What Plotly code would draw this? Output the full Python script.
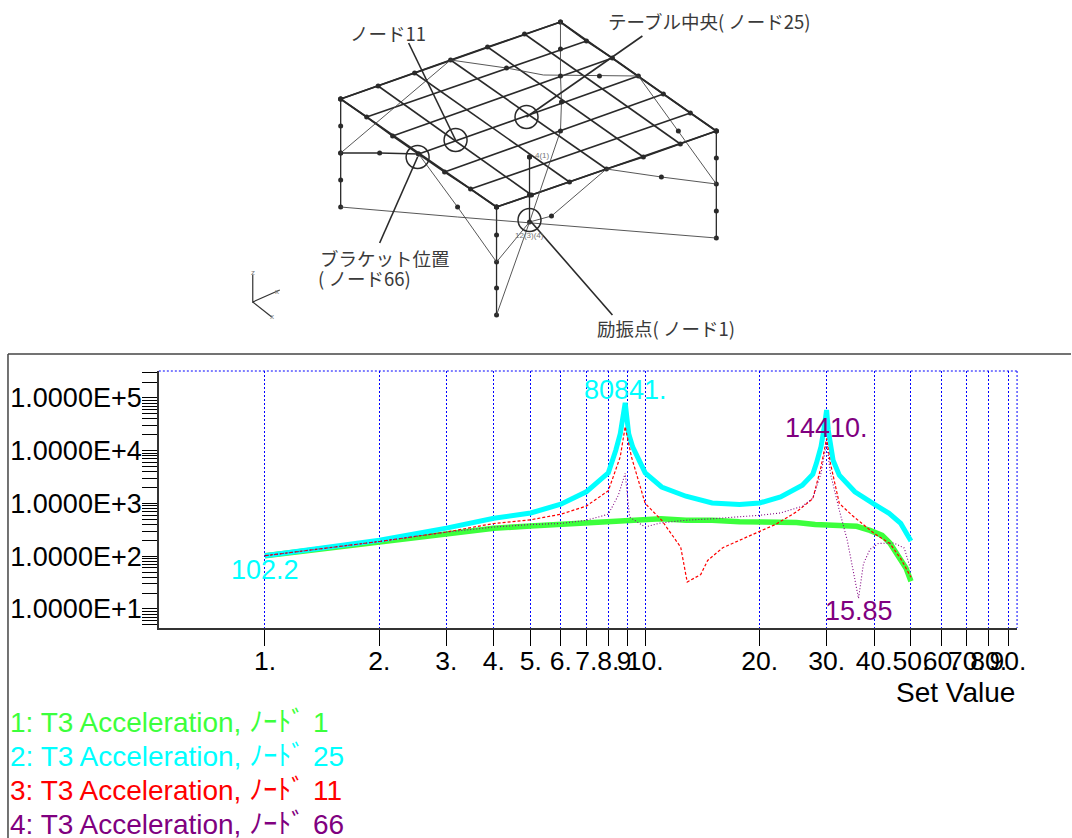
import math
import plotly.graph_objects as go

# ---------- response curves ----------
x_node1 = [1, 2, 3, 4, 5, 6, 7, 8, 9, 10, 11, 12.8, 15, 17.7, 20, 25, 28, 33, 36, 39, 42, 44, 46, 48.5, 50]
y_node1 = [102.2, 187, 270, 339, 373, 398, 426, 457, 480, 507, 513, 480, 480, 452, 445, 433, 398, 385, 369, 309, 248, 178, 107, 60, 33.6]

x_node25 = [1, 2, 3, 4, 5, 6, 7, 8, 8.37, 8.6, 8.86, 9.05, 9.27, 10, 11.05, 12.8, 15, 17.7, 20, 22.7, 25.9, 27.6, 28.2, 29, 29.5, 30, 30.3, 30.7, 31.2, 32.4, 35.6, 40, 43.8, 47, 50]
y_node25 = [102.2, 200, 340, 525, 660, 966, 1660, 3800, 10200, 21000, 80841, 21000, 11800, 3800, 2050, 1370, 1020, 955, 1020, 1330, 2220, 3590, 5750, 11900, 24600, 59000, 24600, 11900, 6600, 3430, 1660, 966, 650, 417, 194]

x_node11 = [1, 2, 3, 4, 5, 6, 7, 8, 8.6, 8.86, 9.2, 10, 11.05, 12.4, 12.9, 14, 14.6, 16, 20, 22, 25, 27.6, 29, 30, 30.7, 32.4, 35, 40, 44, 47, 50]
y_node11 = [102.2, 190, 287, 417, 490, 624, 890, 1740, 7670, 28500, 7670, 1000, 480, 148, 32.3, 45, 83, 145, 295, 398, 692, 1230, 4900, 17100, 5750, 1000, 596, 270, 174, 90, 40]

x_node66 = [1, 2, 3, 4, 5, 6, 7, 8, 8.5, 8.86, 9.1, 10, 11, 12.8, 15, 17.7, 20, 22.7, 25.9, 27.6, 29, 30, 30.7, 32.4, 34, 36.4, 37.5, 39, 41, 45, 48, 50]
y_node66 = [102.2, 190, 285, 357, 398, 417, 480, 624, 1430, 3720, 550, 357, 427, 480, 513, 550, 596, 660, 885, 1260, 3720, 14410, 3720, 745, 200, 15.85, 72, 134, 174, 178, 143, 54]

series_names = ["1: T3 Acceleration, ﾉｰﾄﾞ 1", "2: T3 Acceleration, ﾉｰﾄﾞ 25",
                "3: T3 Acceleration, ﾉｰﾄﾞ 11", "4: T3 Acceleration, ﾉｰﾄﾞ 66"]
series_colors = ["#3CFF3C", "#00FFFF", "#FF0000", "#800080"]

x_tick_vals = [1, 2, 3, 4, 5, 6, 7, 8, 9, 10, 20, 30, 40, 50, 60, 70, 80, 90]
x_tick_text = ["1.", "2.", "3.", "4.", "5.", "6.", "7.", "8.", "9.", "10.", "20.", "30.", "40.", "50.", "60.", "70.", "80.", "90."]
y_tick_vals = [5, 6, 7, 8, 9,
               10, 20, 30, 40, 50, 60, 70, 80, 90,
               100, 200, 300, 400, 500, 600, 700, 800, 900,
               1000, 2000, 3000, 4000, 5000, 6000, 7000, 8000, 9000,
               10000, 20000, 30000, 40000, 50000, 60000, 70000, 80000, 90000,
               100000, 200000, 300000]
y_major = {10: "1.0000E+1", 100: "1.0000E+2", 1000: "1.0000E+3", 10000: "1.0000E+4", 100000: "1.0000E+5"}
y_tick_text = [y_major.get(v, "") for v in y_tick_vals]

peak_labels = [("102.2", 1, 102.2, "#00FFFF", -14), ("80841.", 8.86, 80841, "#00FFFF", 13),
               ("14410.", 30, 14410, "#800080", 14), ("15.85", 36.4, 15.85, "#800080", -13)]

# ---------- schematic of the table (drawing positions in page pixels) ----------
edge_tl = [(561, 22), (525, 34), (488, 47), (451, 60), (415, 73), (378.5, 86), (341, 99)]
edge_rb = [(717, 131), (681, 144), (644, 157), (607, 169), (570, 182), (532, 195), (497, 207)]
edge_tr = [(561, 22), (587, 41), (613, 58), (639, 76), (664, 94), (691, 113), (717, 131)]
edge_lb = [(341, 99), (367, 117), (393, 136), (419, 154), (445, 172), (471, 189), (497, 207)]

heavy_paths = [
    [(341, 99), (341, 126), (341, 153), (341, 180), (341, 207)],
    [(717, 131), (717, 158), (717, 184), (717, 211), (717, 238)],
    [(497, 207), (497, 235), (497, 262), (497, 288), (497, 315)],
    [(341, 153), (380, 153), (419, 154)],
    [(530, 157), (530, 195), (530, 222)],
]
thin_paths = [
    [(561, 22), (561, 49), (561, 76), (562, 102), (561, 131)],
    [(341, 207), (458, 217), (717, 238)],
    [(341, 153), (451, 60)],
    [(451, 60), (507, 68), (544, 75), (600, 76), (639, 76)],
    [(639, 76), (679, 131), (717, 184)],
    [(607, 169), (662, 177), (717, 184)],
    [(419, 154), (458, 207), (497, 262)],
    [(607, 169), (552, 216), (530, 222)],
    [(561, 131), (530, 222)],
    [(530, 222), (497, 262)],
    [(530, 222), (497, 315)],
]
extra_nodes = [(561, 49), (561, 76), (562, 102), (561, 131), (600, 76), (507, 68), (679, 131), (662, 177),
               (458, 207), (552, 216), (530, 195), (530, 157)]
leader_paths = [
    [(409, 43), (456, 140)],
    [(643, 36), (527, 117)],
    [(380, 243), (418, 157)],
    [(613, 315), (530, 220)],
]
circle_xy = [(456, 140), (418, 157), (527, 117), (530, 220)]
triad_paths = [[(253, 275), (253, 302), (280, 290)], [(253, 302), (272, 317)]]
diagram_text = [
    ("ノード11", 348, 33), ("テーブル中央( ノード25)", 607, 21), ("ブラケット位置", 318, 258),
    ("( ノード66)", 316, 278), ("励振点( ノード1)", 596, 328),
]
small_text = [("4(1)", 543, 155), ("12(3)(4)", 530, 235), ("z", 253, 272), ("x", 277, 291), ("x", 272, 316)]

FONT = "Liberation Sans, Noto Sans CJK JP, sans-serif"
CJK = "Noto Sans CJK JP, Liberation Sans, sans-serif"
DARK = "#2a2a2a"

fig = go.Figure()

styles = [dict(width=5.5), dict(width=5), dict(width=1.2, dash="3px,2px"), dict(width=1.1, dash="1px,2px")]
curves = [(x_node1, y_node1), (x_node25, y_node25), (x_node11, y_node11), (x_node66, y_node66)]
for (xs, ys), name, colour, style in zip(curves, series_names, series_colors, styles):
    fig.add_trace(go.Scatter(x=xs, y=ys, mode="lines", name=name, showlegend=False,
                             line=dict(color=colour, **style), xaxis="x", yaxis="y"))


def add_path(points, width, colour=DARK, markers=False):
    fig.add_trace(go.Scatter(x=[p[0] for p in points], y=[p[1] for p in points],
                             mode="lines+markers" if markers else "lines",
                             line=dict(color=colour, width=width),
                             marker=dict(color=colour, size=5),
                             showlegend=False, xaxis="x2", yaxis="y2", hoverinfo="skip"))


for a, b in zip(edge_tl, edge_rb):
    add_path([a, b], 1.6)
for a, b in zip(edge_tr, edge_lb):
    add_path([a, b], 1.6)
for edge in (edge_tl, edge_tr, edge_lb, edge_rb):
    add_path(edge, 1.6, markers=True)
for path in heavy_paths:
    add_path(path, 1.3, markers=True)
for path in thin_paths:
    add_path(path, 0.9, colour="#444444")
for path in leader_paths:
    add_path(path, 1.6)
for path in triad_paths:
    add_path(path, 1.2, colour="#333333")
fig.add_trace(go.Scatter(x=[p[0] for p in extra_nodes], y=[p[1] for p in extra_nodes], mode="markers",
                         marker=dict(color=DARK, size=5), showlegend=False, xaxis="x2", yaxis="y2", hoverinfo="skip"))
fig.add_trace(go.Scatter(x=[p[0] for p in circle_xy], y=[p[1] for p in circle_xy], mode="markers",
                         marker=dict(color="rgba(0,0,0,0)", size=23, line=dict(color=DARK, width=1.5)),
                         showlegend=False, xaxis="x2", yaxis="y2", hoverinfo="skip"))

annotations = []
for text, px, py in diagram_text:
    annotations.append(dict(text=text, x=px, y=py, xref="x2", yref="y2", xanchor="left", yanchor="middle",
                            showarrow=False, font=dict(family=CJK, size=18.5, color="#3a3a3a")))
for text, px, py in small_text:
    annotations.append(dict(text=text, x=px, y=py, xref="x2", yref="y2", xanchor="center", yanchor="middle",
                            showarrow=False, font=dict(family=FONT, size=8, color="#777777")))
for text, vx, vy, colour, shift in peak_labels:
    annotations.append(dict(text=text, x=math.log10(vx), y=math.log10(vy), xref="x", yref="y", yshift=shift,
                            xanchor="center", yanchor="middle", showarrow=False,
                            font=dict(family=FONT, size=27, color=colour)))
annotations.append(dict(text="Set Value", x=1018, y=692, xref="x2", yref="y2", xanchor="right", yanchor="middle",
                        showarrow=False, font=dict(family=FONT, size=28, color="#000000")))
for i, (name, colour) in enumerate(zip(series_names, series_colors)):
    annotations.append(dict(text=name, x=8, y=722 + 34 * i, xref="x2", yref="y2", xanchor="left", yanchor="middle",
                            showarrow=False, font=dict(family=FONT, size=28, color=colour)))

FRAME = "#444444"
shapes = [
    dict(type="line", xref="x2", yref="y2", x0=8, x1=1072, y0=354, y1=354, line=dict(color=FRAME, width=1.5)),
    dict(type="line", xref="x2", yref="y2", x0=8, x1=8, y0=354, y1=838, line=dict(color=FRAME, width=1.5)),
    dict(type="line", xref="x2", yref="y2", x0=159, x1=1018, y0=371, y1=371, line=dict(color="#0000FF", width=1, dash="2px,2px")),
    dict(type="line", xref="x2", yref="y2", x0=1018, x1=1018, y0=371, y1=628, line=dict(color="#0000FF", width=1, dash="2px,2px")),
]

W, H = 1072, 838
fig.update_layout(
    width=W + 8, height=H, autosize=False, margin=dict(l=0, r=0, t=0, b=0),
    paper_bgcolor="white", plot_bgcolor="rgba(0,0,0,0)", showlegend=False,
    font=dict(family=FONT, size=26, color="#000000"),
    annotations=annotations, shapes=shapes,
    xaxis=dict(type="log", domain=[159 / W, 1018 / W], range=[-0.279, 1.978], anchor="y",
               tickmode="array", tickvals=x_tick_vals, ticktext=x_tick_text, tickangle=0,
               ticks="outside", ticklen=16, tickwidth=1, tickcolor="#000000", ticklabelstandoff=-8,
               showgrid=True, gridcolor="#0000FF", griddash="2px,2px", gridwidth=1,
               showline=True, linecolor="#333333", linewidth=1.5, zeroline=False,
               tickfont=dict(family=FONT, size=26.5, color="#000000")),
    yaxis=dict(type="log", domain=[(H - 628) / H, (H - 371) / H], range=[0.639, 5.51], anchor="x",
               tickmode="array", tickvals=y_tick_vals, ticktext=y_tick_text,
               ticks="outside", ticklen=15, tickwidth=1, tickcolor="#000000", ticklabelstandoff=-5,
               showgrid=False, showline=True, linecolor="#333333", linewidth=1.5, zeroline=False,
               tickfont=dict(family=FONT, size=27, color="#000000")),
    xaxis2=dict(domain=[0, 1], range=[0, W], visible=False, anchor="y2", fixedrange=True),
    yaxis2=dict(domain=[0, 1], range=[H, 0], visible=False, anchor="x2", fixedrange=True),
)

post = "document.body.style.margin='0';document.body.style.overflow='hidden';"
fig.write_html("out.html", post_script=post, config={"displayModeBar": False})
